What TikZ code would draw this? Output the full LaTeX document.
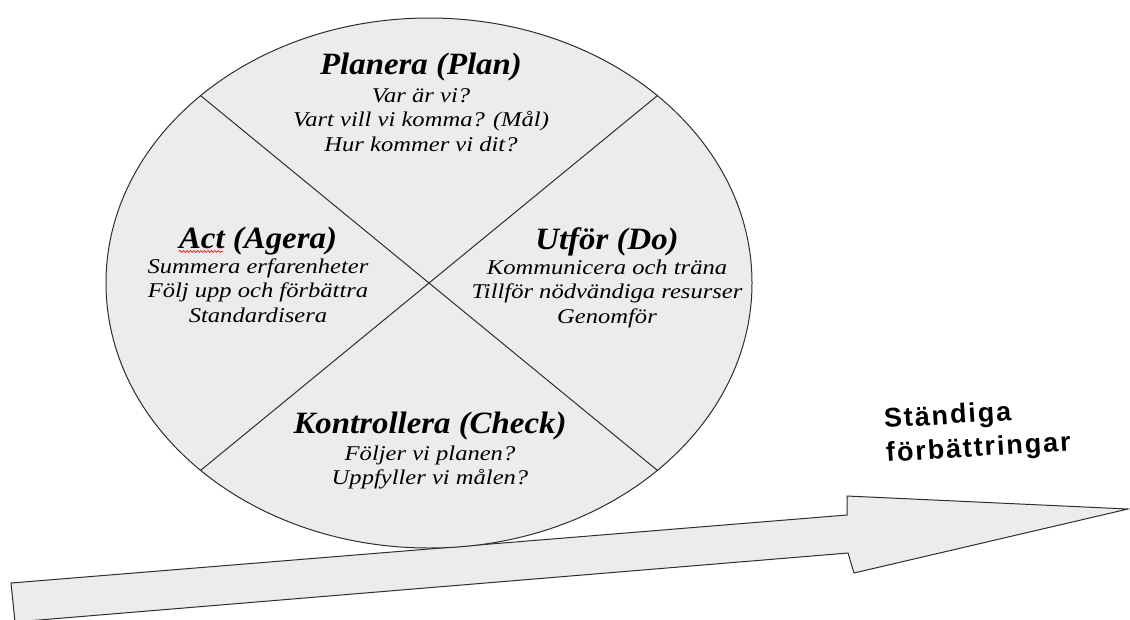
\documentclass[tikz,border=0pt]{standalone}
\usepackage{fontspec}
\setmainfont{Liberation Serif}
\newfontfamily\arrowfont[LetterSpace=7]{Liberation Sans}
\usepackage{xcolor}
\usepackage{tikz}
\usetikzlibrary{positioning,calc,decorations.pathmorphing}
\definecolor{pdcafill}{gray}{0.925}
\definecolor{pdcaline}{gray}{0.18}

\tikzset{
  quadtitle/.style={font=\fontsize{31}{33}\selectfont\bfseries\itshape, xscale=1.06, inner sep=0pt},
  quadbody/.style={font=\fontsize{21}{24.5}\selectfont\itshape, xscale=1.17, align=center, inner sep=0pt},
}

\begin{document}
\begin{tikzpicture}[x=1pt, y=-1pt]
  \useasboundingbox (0,0) rectangle (1130,619);
  \fill[white] (0,0) rectangle (1130,619);
  % big arrow
  \coordinate (tailtop) at (11,583);
  \coordinate (shafttop) at (847,515);
  \coordinate (headtop) at (847,496);
  \coordinate (tip) at (1128,509);
  \coordinate (headbot) at (854,573);
  \coordinate (shaftbot) at (848,553);
  \coordinate (tailbot) at (15,622);
  \draw[pdcaline, line width=1pt, fill=pdcafill] (tailtop) -- (shafttop) -- (headtop) -- (tip)
    -- (headbot) -- (shaftbot) -- (tailbot) -- cycle;
  % the cycle
  \coordinate (c) at (429,283);
  \draw[pdcaline, line width=1pt, fill=pdcafill] (c) ellipse [x radius=323, y radius=265];
  \coordinate (ne) at ($(c)+(45:323 and 265)$);
  \coordinate (nw) at ($(c)+(135:323 and 265)$);
  \coordinate (sw) at ($(c)+(225:323 and 265)$);
  \coordinate (se) at ($(c)+(315:323 and 265)$);
  \draw[pdcaline, line width=1pt] (ne) -- (sw);
  \draw[pdcaline, line width=1pt] (nw) -- (se);
  % quadrants
  \node[quadtitle] (plan) at (421,67) {Planera (Plan)};
  \node[quadbody, below=7pt of plan] (planbody)
    {Var är vi?\\Vart vill vi komma? (Mål)\\Hur kommer vi dit?};
  \node[quadtitle] (act) at (258,241) {Act (Agera)};
  \node[quadbody, below=3pt of act] (actbody)
    {Summera erfarenheter\\Följ upp och förbättra\\Standardisera};
  \node[quadtitle] (do) at (607,242) {Utför (Do)};
  \node[quadbody, below=3pt of do] (dobody)
    {Kommunicera och träna\\Tillför nödvändiga resurser\\Genomför};
  \node[quadtitle] (check) at (430,426) {Kontrollera (Check)};
  \node[quadbody, below=5pt of check] (checkbody)
    {Följer vi planen?\\Uppfyller vi målen?};
  % spell check mark
  \draw[red, line width=0.6pt, decorate,
    decoration={snake, amplitude=1pt, segment length=3.5pt}]
    ([yshift=-3pt]act.base west) -- ++(44,0);
  % label of the arrow
  \node[font=\arrowfont\bfseries\fontsize{27}{31}\selectfont, align=left,
    rotate=3.5, anchor=west, inner sep=0pt] (gain) at (885,438)
    {Ständiga\\[3pt]förbättringar};
\end{tikzpicture}
\end{document}
